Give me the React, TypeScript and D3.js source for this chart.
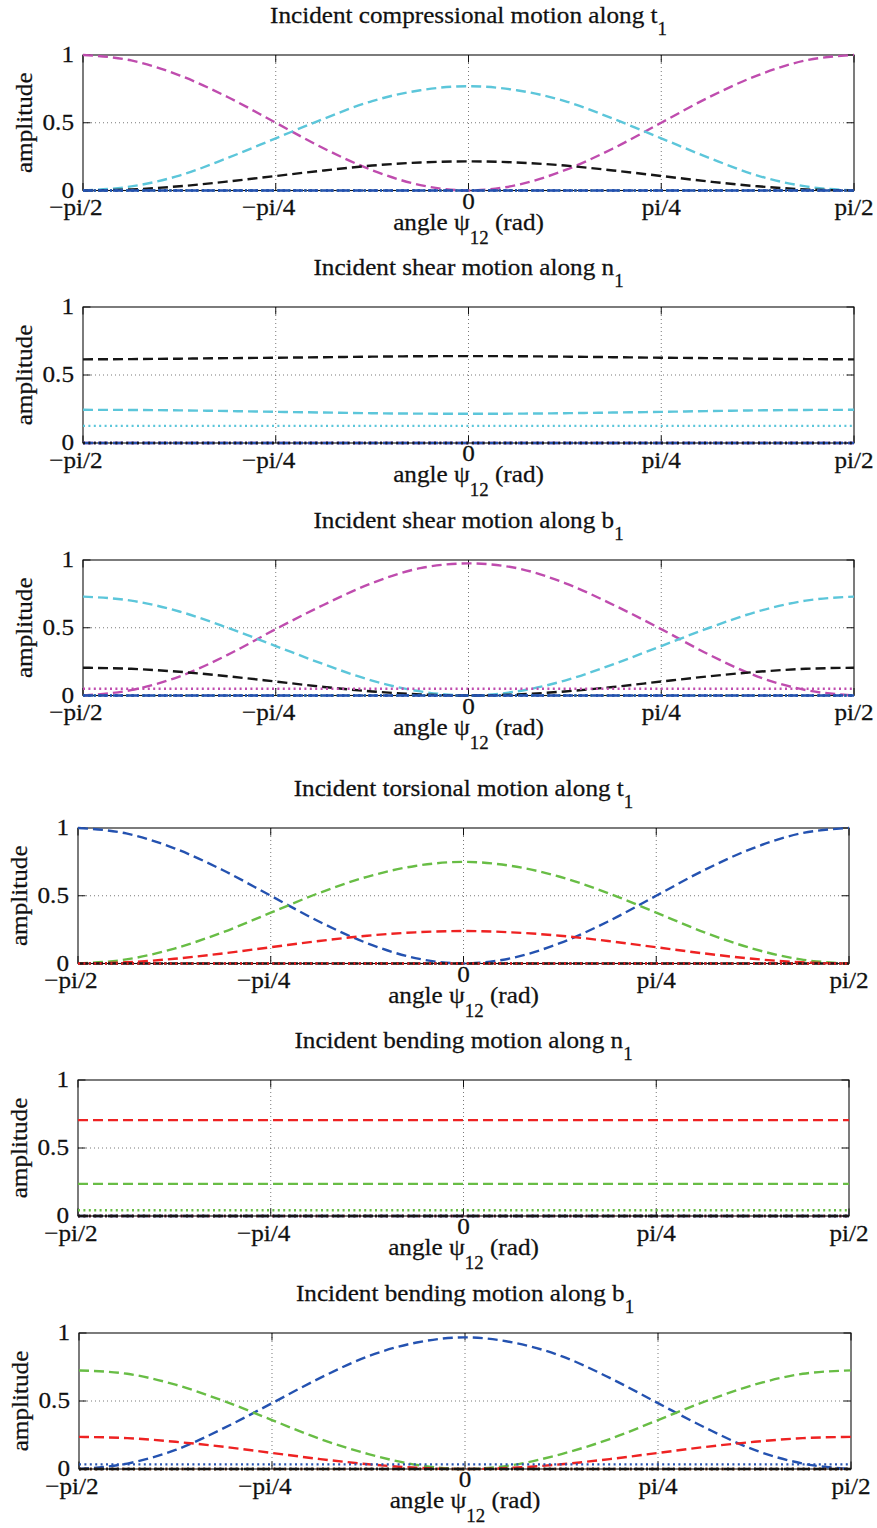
import React from "react";
import * as d3 from "d3";

// ---------- data ----------
const psiSamples = [
  -1.5708, -1.3744, -1.1781, -0.9817, -0.7854, -0.589, -0.3927, -0.1963, 0,
  0.1963, 0.3927, 0.589, 0.7854, 0.9817, 1.1781, 1.3744, 1.5708,
];
const xTickValues = [-1.5708, -0.7854, 0, 0.7854, 1.5708];
const xTickLabels = ["\u2212pi/2", "\u2212pi/4", "0", "pi/4", "pi/2"];
const xGridValues = [-0.7854, 0, 0.7854];
const yTickValues = [0, 0.5, 1];
const yTickLabels = ["0", "0.5", "1"];
const yGridValues = [0.5];

const flatZero = [0, 0, 0, 0, 0, 0, 0, 0, 0, 0, 0, 0, 0, 0, 0, 0, 0];

// panel 1: incident compressional along t1
const p1MagentaDash = [1.0, 0.96, 0.85, 0.69, 0.5, 0.31, 0.15, 0.04, 0.0, 0.04, 0.15, 0.31, 0.5, 0.69, 0.85, 0.96, 1.0];
const p1CyanDash = [0.0, 0.03, 0.11, 0.24, 0.385, 0.53, 0.66, 0.74, 0.77, 0.74, 0.66, 0.53, 0.385, 0.24, 0.11, 0.03, 0.0];
const p1BlackDash = [0.0, 0.008, 0.031, 0.066, 0.107, 0.148, 0.184, 0.207, 0.215, 0.207, 0.184, 0.148, 0.107, 0.066, 0.031, 0.008, 0.0];

// panel 2: incident shear along n1
const p2BlackDash = [0.615, 0.617, 0.62, 0.624, 0.627, 0.631, 0.635, 0.638, 0.639, 0.638, 0.635, 0.631, 0.627, 0.624, 0.62, 0.617, 0.615];
const p2CyanDash = [0.244, 0.243, 0.24, 0.235, 0.229, 0.224, 0.219, 0.216, 0.215, 0.216, 0.219, 0.224, 0.229, 0.235, 0.24, 0.243, 0.244];
const p2CyanDot = [0.126, 0.126, 0.126, 0.126, 0.126, 0.126, 0.126, 0.126, 0.126, 0.126, 0.126, 0.126, 0.126, 0.126, 0.126, 0.126, 0.126];

// panel 3: incident shear along b1
const p3MagentaDash = [0.0, 0.04, 0.14, 0.3, 0.49, 0.67, 0.83, 0.94, 0.975, 0.94, 0.83, 0.67, 0.49, 0.3, 0.14, 0.04, 0.0];
const p3CyanDash = [0.73, 0.7, 0.62, 0.5, 0.365, 0.23, 0.11, 0.03, 0.0, 0.03, 0.11, 0.23, 0.365, 0.5, 0.62, 0.7, 0.73];
const p3BlackDash = [0.205, 0.197, 0.175, 0.142, 0.103, 0.063, 0.03, 0.008, 0.0, 0.008, 0.03, 0.063, 0.103, 0.142, 0.175, 0.197, 0.205];
const p3MagentaDot = [0.05, 0.05, 0.05, 0.05, 0.05, 0.05, 0.05, 0.05, 0.05, 0.05, 0.05, 0.05, 0.05, 0.05, 0.05, 0.05, 0.05];

// panel 4: incident torsional along t1
const p4BlueDash = [1.0, 0.96, 0.85, 0.69, 0.5, 0.31, 0.15, 0.04, 0.0, 0.04, 0.15, 0.31, 0.5, 0.69, 0.85, 0.96, 1.0];
const p4GreenDash = [0.0, 0.03, 0.11, 0.23, 0.375, 0.52, 0.64, 0.72, 0.75, 0.72, 0.64, 0.52, 0.375, 0.23, 0.11, 0.03, 0.0];
const p4RedDash = [0.0, 0.009, 0.035, 0.074, 0.12, 0.166, 0.205, 0.23, 0.24, 0.23, 0.205, 0.166, 0.12, 0.074, 0.035, 0.009, 0.0];

// panel 5: incident bending along n1
const p5RedDash = [0.705, 0.705, 0.705, 0.705, 0.705, 0.705, 0.705, 0.705, 0.705, 0.705, 0.705, 0.705, 0.705, 0.705, 0.705, 0.705, 0.705];
const p5GreenDash = [0.236, 0.236, 0.236, 0.236, 0.236, 0.236, 0.236, 0.236, 0.236, 0.236, 0.236, 0.236, 0.236, 0.236, 0.236, 0.236, 0.236];
const p5GreenDot = [0.042, 0.042, 0.042, 0.042, 0.042, 0.042, 0.042, 0.042, 0.042, 0.042, 0.042, 0.042, 0.042, 0.042, 0.042, 0.042, 0.042];

// panel 6: incident bending along b1
const p6BlueDash = [0.0, 0.04, 0.14, 0.3, 0.484, 0.67, 0.83, 0.93, 0.968, 0.93, 0.83, 0.67, 0.484, 0.3, 0.14, 0.04, 0.0];
const p6GreenDash = [0.725, 0.7, 0.62, 0.5, 0.36, 0.22, 0.11, 0.03, 0.0, 0.03, 0.11, 0.22, 0.36, 0.5, 0.62, 0.7, 0.725];
const p6RedDash = [0.236, 0.227, 0.2, 0.163, 0.118, 0.073, 0.035, 0.009, 0.0, 0.009, 0.035, 0.073, 0.118, 0.163, 0.2, 0.227, 0.236];
const p6BlueDot = [0.034, 0.034, 0.034, 0.034, 0.034, 0.034, 0.034, 0.034, 0.034, 0.034, 0.034, 0.034, 0.034, 0.034, 0.034, 0.034, 0.034];

const titleMain = [
  "Incident compressional motion along t",
  "Incident shear motion along n",
  "Incident shear motion along b",
  "Incident torsional motion along t",
  "Incident bending motion along n",
  "Incident bending motion along b",
];
const titleSub = ["1", "1", "1", "1", "1", "1"];

// ---------- styles ----------
const C = {
  magenta: "#bf4cae",
  cyan: "#5cc6da",
  black: "#161616",
  blue: "#2452b0",
  red: "#ee2222",
  green: "#68bd45",
};
const DASH = "10,5";
const DOT = "2,3.4";

type S = { v: number[]; c: string; d: string };
const dash = (v: number[], c: string): S => ({ v, c, d: DASH });
const dot = (v: number[], c: string): S => ({ v, c, d: DOT });

const panelSeries: S[][] = [
  [
    dash(p1MagentaDash, C.magenta),
    dash(p1CyanDash, C.cyan),
    dash(p1BlackDash, C.black),
    dot(flatZero, C.magenta),
    dot(flatZero, C.black),
    dot(flatZero, C.cyan),
    dash(flatZero, C.blue),
    dot(flatZero, C.blue),
  ],
  [
    dash(p2BlackDash, C.black),
    dash(p2CyanDash, C.cyan),
    dot(p2CyanDot, C.cyan),
    dash(flatZero, C.magenta),
    dot(flatZero, C.magenta),
    dash(flatZero, C.blue),
    dot(flatZero, C.blue),
    dot(flatZero, C.black),
  ],
  [
    dash(p3MagentaDash, C.magenta),
    dash(p3CyanDash, C.cyan),
    dash(p3BlackDash, C.black),
    dot(p3MagentaDot, C.magenta),
    dot(flatZero, C.black),
    dot(flatZero, C.cyan),
    dash(flatZero, C.blue),
    dot(flatZero, C.blue),
  ],
  [
    dash(p4BlueDash, C.blue),
    dash(p4GreenDash, C.green),
    dash(p4RedDash, C.red),
    dot(flatZero, C.green),
    dot(flatZero, C.blue),
    dash(flatZero, C.black),
    dot(flatZero, C.black),
    dot(flatZero, C.red),
  ],
  [
    dash(p5RedDash, C.red),
    dash(p5GreenDash, C.green),
    dot(p5GreenDot, C.green),
    dash(flatZero, C.blue),
    dot(flatZero, C.blue),
    dot(flatZero, C.red),
    dash(flatZero, C.black),
    dot(flatZero, C.black),
  ],
  [
    dash(p6BlueDash, C.blue),
    dash(p6GreenDash, C.green),
    dash(p6RedDash, C.red),
    dot(p6BlueDot, C.blue),
    dot(flatZero, C.green),
    dot(flatZero, C.red),
    dash(flatZero, C.black),
    dot(flatZero, C.black),
  ],
];

// ---------- layout ----------
const layouts = [
  { L: 83, R: 854, T: 55, B: 190.5 },
  { L: 83, R: 854, T: 307, B: 443 },
  { L: 83, R: 854, T: 560, B: 695.5 },
  { L: 78, R: 849, T: 828, B: 963.5 },
  { L: 78, R: 849, T: 1080, B: 1216 },
  { L: 79, R: 851, T: 1333, B: 1469 },
];

const FONT = "'Liberation Serif','Times New Roman',Times,serif";
const FS = 24;
const SUBFS = 18;
const SX = 1.05;
const INK = "#111";

function T(props: {
  x: number;
  y: number;
  anchor?: string;
  rotate?: number;
  size?: number;
  dy?: string;
  children: React.ReactNode;
}) {
  const { x, y, anchor = "middle", rotate, size = FS, dy, children } = props;
  return (
    <text
      transform={`translate(${x},${y})${rotate ? ` rotate(${rotate})` : ""} scale(${SX},1)`}
      textAnchor={anchor}
      fontSize={size}
      fontFamily={FONT}
      fill={INK}
      stroke={INK}
      strokeWidth={0.25}
      dy={dy}
    >
      {children}
    </text>
  );
}

function Panel({ idx }: { idx: number }) {
  const { L, R, T: top, B } = layouts[idx];
  const x = d3.scaleLinear().domain([-Math.PI / 2, Math.PI / 2]).range([L, R]);
  const y = d3.scaleLinear().domain([0, 1]).range([B, top]);
  const line = d3
    .line<number>()
    .x((_, i) => x(psiSamples[i]))
    .y((v) => y(v))
    .curve(d3.curveMonotoneX);
  const cx = (L + R) / 2;
  const tick = 7.5;
  const minusShift = 7;

  return (
    <g>
      {/* title */}
      <T x={cx} y={top - 32}>
        {titleMain[idx]}
        <tspan fontSize={SUBFS} dy={12}>
          {titleSub[idx]}
        </tspan>
      </T>

      {/* grid */}
      {xGridValues.map((g, i) => (
        <line
          key={"gx" + i}
          x1={x(g)}
          x2={x(g)}
          y1={top}
          y2={B}
          stroke="#555"
          strokeWidth={0.8}
          strokeDasharray="1,3"
        />
      ))}
      {yGridValues.map((g, i) => (
        <line
          key={"gy" + i}
          x1={L}
          x2={R}
          y1={y(g)}
          y2={y(g)}
          stroke="#555"
          strokeWidth={0.8}
          strokeDasharray="1,3"
        />
      ))}

      {/* ticks */}
      {xTickValues.map((t, i) => (
        <g key={"xt" + i}>
          <line x1={x(t)} x2={x(t)} y1={B} y2={B - tick} stroke={INK} strokeWidth={1} />
          <line x1={x(t)} x2={x(t)} y1={top} y2={top + tick} stroke={INK} strokeWidth={1} />
        </g>
      ))}
      {yTickValues.map((t, i) => (
        <g key={"yt" + i}>
          <line x1={L} x2={L + tick} y1={y(t)} y2={y(t)} stroke={INK} strokeWidth={1} />
          <line x1={R} x2={R - tick} y1={y(t)} y2={y(t)} stroke={INK} strokeWidth={1} />
        </g>
      ))}

      {/* box */}
      <rect x={L} y={top} width={R - L} height={B - top} fill="none" stroke={INK} strokeWidth={1.1} />

      {/* series */}
      {panelSeries[idx].map((s, i) => (
        <path
          key={"s" + i}
          d={line(s.v) || ""}
          fill="none"
          stroke={s.c}
          strokeWidth={2.4}
          strokeDasharray={s.d}
        />
      ))}

      {/* x tick labels */}
      {xTickValues.map((t, i) => {
        const lab = xTickLabels[i];
        const neg = lab.startsWith("\u2212");
        const isZero = lab === "0";
        return (
          <T key={"xl" + i} x={x(t) - (neg ? minusShift : 0)} y={B + (isZero ? 18 : 24.5)}>
            {lab}
          </T>
        );
      })}

      {/* y tick labels */}
      {yTickValues.map((t, i) => (
        <T key={"yl" + i} x={L - 9} y={y(t)} anchor="end" dy="0.3em">
          {yTickLabels[i]}
        </T>
      ))}

      {/* y label */}
      <T x={L - 51} y={(top + B) / 2} rotate={-90}>
        amplitude
      </T>

      {/* x label */}
      <T x={cx} y={B + 39}>
        {"angle \u03C8"}
        <tspan fontSize={SUBFS} dy={14}>
          12
        </tspan>
        <tspan dy={-14}>{" (rad)"}</tspan>
      </T>
    </g>
  );
}

export default function App() {
  return (
    <div style={{ position: "absolute", left: 0, top: 0 }}>
      <svg width={877} height={1528} style={{ display: "block", background: "#fff" }}>
        <rect x={0} y={0} width={877} height={1528} fill="#fff" />
        {layouts.map((_, i) => (
          <Panel key={i} idx={i} />
        ))}
      </svg>
    </div>
  );
}
